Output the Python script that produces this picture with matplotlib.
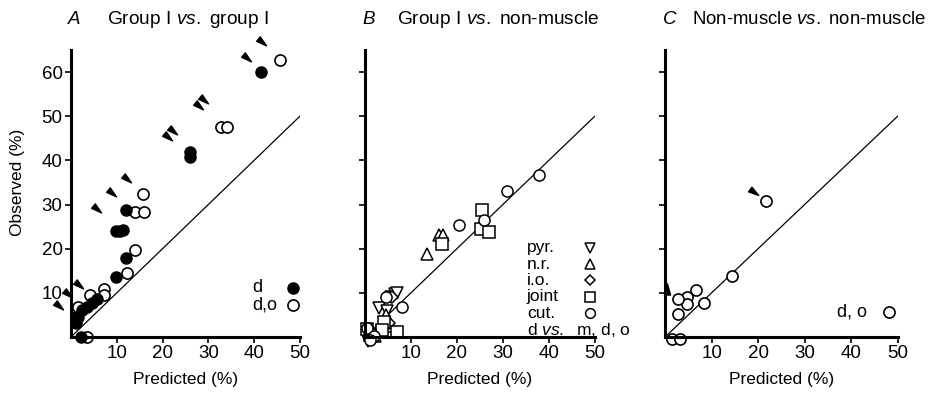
import numpy as np
import matplotlib.pyplot as plt
from matplotlib.path import Path

plt.rcParams['font.family'] = ['Liberation Sans', 'DejaVu Sans']
plt.rcParams['mathtext.fontset'] = 'custom'
plt.rcParams['mathtext.it'] = 'Liberation Sans:italic'
plt.rcParams['mathtext.rm'] = 'Liberation Sans'

# ---- Panel A: group I vs group I ----
a_filled_x = [41.4, 25.9, 26.0, 12.0, 9.8, 10.6, 11.4, 12.0, 9.8,
              5.6, 4.5, 3.4, 2.3, 1.5, 1.0, 2.2]
a_filled_y = [60.0, 41.8, 40.7, 28.7, 23.9, 24.1, 24.3, 18.0, 13.6,
              8.5, 7.6, 6.8, 6.1, 4.6, 3.1, 0.1]
a_open_x = [45.7, 32.8, 34.1, 15.7, 14.0, 16.0, 14.0, 12.2, 7.1, 7.3,
            4.2, 1.6, 1.2, 3.6]
a_open_y = [62.7, 47.5, 47.6, 32.3, 28.3, 28.3, 19.6, 14.4, 10.8, 9.5,
            9.5, 6.7, 4.5, 0.1]
a_arrow_x = [41.7, 38.4, 29.1, 28.0, 22.3, 21.1, 12.3, 8.9, 5.6, 1.8, -0.7, -2.6]
a_arrow_y = [66.7, 63.1, 53.7, 52.4, 46.6, 45.2, 35.8, 32.6, 29.1, 11.7, 9.7, 7.0]

# ---- Panel B: group I vs non-muscle ----
b_pyr_x = [3.0, 5.6, 6.5, 7.0, 4.9, 1.2, 0.6]
b_pyr_y = [6.5, 9.1, 9.7, 9.9, 6.0, 0.5, -0.8]
b_nr_x = [13.5, 16.1, 17.0, 4.5, 4.8, 5.6, 1.0, 2.2]
b_nr_y = [18.7, 23.1, 23.1, 5.0, 3.0, 2.5, 0.8, 0.3]
b_io_x = [5.9, 5.2, 4.0, 1.5, 0.8]
b_io_y = [9.1, 3.1, 2.4, 0.5, 1.2]
b_joint_x = [25.5, 25.2, 27.0, 16.7, 7.0, 4.1, 3.6, 1.0, 0.5]
b_joint_y = [28.8, 24.5, 23.7, 21.1, 1.2, 3.5, 1.5, 0.5, 1.8]
b_cut_x = [37.8, 31.0, 20.4, 25.9, 8.1, 4.6, 0.5, 2.0, 1.2]
b_cut_y = [36.8, 33.0, 25.3, 26.6, 6.7, 9.1, 2.0, 0.3, -0.6]
b_labels = ['pyr.', 'n.r.', 'i.o.', 'joint', 'cut.', r'd $\it{vs.}$  m, d, o']

# ---- Panel C: non-muscle vs non-muscle ----
c_open_x = [21.6, 14.4, 8.4, 6.6, 4.8, 4.8, 2.7, 2.8, 1.4, 3.2]
c_open_y = [30.8, 13.8, 7.6, 10.6, 9.1, 7.4, 8.7, 5.2, -0.4, -0.4]
c_arrow_x = [19.2]
c_arrow_y = [32.8]
c_uparrow_x = [0.4]
c_uparrow_y = [10.8]

titles = ['Group I $\\it{vs.}$ group I', 'Group I $\\it{vs.}$ non-muscle',
          'Non-muscle $\\it{vs.}$ non-muscle']
letters = ['A', 'B', 'C']
xticks = [10, 20, 30, 40, 50]
yticks = [10, 20, 30, 40, 50, 60]


def arrowhead(angle):
    pts = np.array([[1.0, 0.0], [-1.0, 0.55], [-1.0, -0.55], [1.0, 0.0]])
    a = np.deg2rad(angle)
    rot = np.array([[np.cos(a), -np.sin(a)], [np.sin(a), np.cos(a)]])
    return Path(pts @ rot.T, closed=True)


def style(ax, ylab):
    ax.set_xlim(0, 50)
    ax.set_ylim(0, 65)
    ax.spines['top'].set_visible(False)
    ax.spines['right'].set_visible(False)
    ax.spines['left'].set_linewidth(2.2)
    ax.spines['bottom'].set_linewidth(2.2)
    ax.set_xticks(xticks)
    ax.set_yticks(yticks)
    ax.tick_params(direction='out', length=4, width=1.2, labelsize=13.5, pad=2)
    if not ylab:
        ax.set_yticklabels([])
    ax.set_xlabel('Predicted (%)', fontsize=12.5, labelpad=7)
    ax.plot([0, 50], [0, 50], color='black', lw=0.9)


fig = plt.figure(figsize=(9.38, 3.93), dpi=100)
bottom, height = 0.1425, 0.7303
axA = fig.add_axes([0.0757, bottom, 0.244, height])
axB = fig.add_axes([0.3891, bottom, 0.245, height])
axC = fig.add_axes([0.709, bottom, 0.248, height])
axes = [axA, axB, axC]

ms = 8
opn = dict(ls='none', marker='o', ms=ms, mfc='white', mec='black', mew=1.2, clip_on=False)
fil = dict(ls='none', marker='o', ms=ms, mfc='black', mec='black', clip_on=False)

# A
style(axA, True)
axA.set_ylabel('Observed (%)', fontsize=12.5)
axA.yaxis.set_label_coords(-0.2, 0.537)
axA.plot(a_open_x, a_open_y, **opn)
axA.plot(a_filled_x, a_filled_y, **fil)
axA.plot(a_arrow_x, a_arrow_y, ls='none', marker=arrowhead(-40), ms=8.5,
         color='black', clip_on=False)
axA.text(0.79, 0.171, 'd', transform=axA.transAxes, fontsize=13, va='center')
axA.text(0.79, 0.11, 'd,o', transform=axA.transAxes, fontsize=13, va='center')
axA.plot([0.972], [0.171], transform=axA.transAxes, **fil)
axA.plot([0.972], [0.11], transform=axA.transAxes, **opn)

# B
style(axB, False)
mk = ['v', '^', 'D', 's', 'o']
bx = [b_pyr_x, b_nr_x, b_io_x, b_joint_x, b_cut_x]
by = [b_pyr_y, b_nr_y, b_io_y, b_joint_y, b_cut_y]
sizes = [8, 8, 6, 8, 8]
for m, xs, ys, s in zip(mk, bx, by, sizes):
    axB.plot(xs, ys, ls='none', marker=m, ms=s, mfc='white', mec='black',
             mew=1.1, clip_on=False)
rows = [0.311, 0.254, 0.197, 0.140, 0.083, 0.026]
for i, lab in enumerate(b_labels):
    axB.text(0.704, rows[i], lab, transform=axB.transAxes, fontsize=12.5, va='center')
    if i < 5:
        axB.plot([0.978], [rows[i]], transform=axB.transAxes, ls='none',
                 marker=mk[i], ms=sizes[i] - 1, mfc='white', mec='black',
                 mew=1.1, clip_on=False)

# C
style(axC, False)
axC.plot(c_open_x, c_open_y, **opn)
axC.plot(c_arrow_x, c_arrow_y, ls='none', marker=arrowhead(-35), ms=8.5,
         color='black', clip_on=False)
axC.plot(c_uparrow_x, c_uparrow_y, ls='none', marker=arrowhead(90), ms=8,
         color='black', clip_on=False)
axC.text(0.738, 0.087, 'd, o', transform=axC.transAxes, fontsize=13, va='center')
axC.plot([0.961], [0.087], transform=axC.transAxes, **opn)

# titles
letter_x = [-0.013, -0.009, -0.009]
title_x = [0.157, 0.139, 0.116]
title_fs = [13.8, 13.8, 13.4]
for ax, let, t, lx, tx, fs in zip(axes, letters, titles, letter_x, title_x, title_fs):
    ax.text(lx, 1.105, let, transform=ax.transAxes, fontsize=13.5,
            style='italic', va='center')
    ax.text(tx, 1.105, t, transform=ax.transAxes, fontsize=fs, va='center')

fig.savefig('out.png', dpi=100)
